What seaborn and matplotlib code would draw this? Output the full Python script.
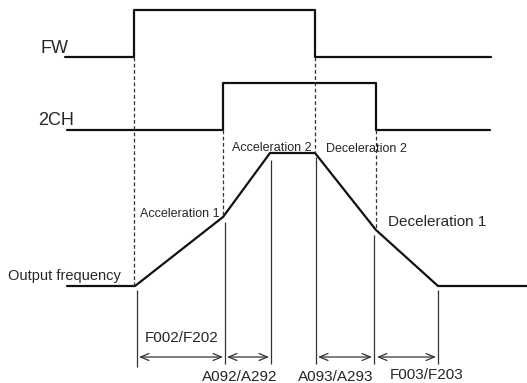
import pandas as pd
import numpy as np
import matplotlib.pyplot as plt
import seaborn as sns

# Signal data (time in diagram units, state 0 = low / 1 = high)
fw_times = [65, 134, 134, 315, 315, 491]
fw_state = [0, 0, 1, 1, 0, 0]
ch_times = [67, 223, 223, 376, 376, 490]
ch_state = [0, 0, 1, 1, 0, 0]

# Output frequency profile (height above baseline)
freq_times = [67, 135, 223, 270, 315, 376, 438, 527]
freq_vals = [0, 0, 69, 133, 133, 56, 0, 0]

# Time-interval labels
interval_labels = ['F002/F202', 'A092/A292', 'A093/A293', 'F003/F203']
interval_spans = [(139, 223), (227, 269), (318, 372), (377, 436)]

sns.set_style("white")
plt.rcParams['font.family'] = ['Liberation Sans', 'DejaVu Sans']

# Layout: row positions for each trace
fw_low, fw_high = 57, 10
ch_low, ch_high = 130, 83
freq_base = 286

rows = []
for t, s in zip(fw_times, fw_state):
    rows.append({'t': t, 'y': fw_low + (fw_high - fw_low) * s, 'signal': 'FW'})
for t, s in zip(ch_times, ch_state):
    rows.append({'t': t, 'y': ch_low + (ch_high - ch_low) * s, 'signal': '2CH'})
for t, v in zip(freq_times, freq_vals):
    rows.append({'t': t, 'y': freq_base - v, 'signal': 'freq'})
df = pd.DataFrame(rows)

fig = plt.figure(figsize=(5.27, 3.83), dpi=100)
ax = fig.add_axes([0, 0, 1, 1])

sns.lineplot(data=df, x='t', y='y', units='signal', estimator=None, sort=False,
             color='#111111', linewidth=1.6, ax=ax)

# Dashed guide lines from the switching edges down to the frequency curve
dash_kw = dict(color='#333333', linewidth=0.9, linestyles=(0, (3, 2)))
ax.vlines(134, fw_low, freq_base, **dash_kw)
ax.vlines(223, ch_low, 217, **dash_kw)
ax.vlines(315, fw_low, 153, **dash_kw)
ax.vlines(376, ch_low, 230, **dash_kw)

# Solid marker lines for the intervals
solid_kw = dict(color='#333333', linewidth=0.9)
ax.vlines(137, 290, 367, **solid_kw)
ax.vlines(225, 222, 364, **solid_kw)
ax.vlines(271, 160, 364, **solid_kw)
ax.vlines(316, 157, 364, **solid_kw)
ax.vlines(374, 235, 364, **solid_kw)
ax.vlines(438, 290, 364, **solid_kw)

for (a, b) in interval_spans:
    ax.annotate('', xy=(a, 357), xytext=(b, 357),
                arrowprops=dict(arrowstyle='<->,head_length=0.6,head_width=0.25',
                                color='#333333', linewidth=0.9,
                                shrinkA=0, shrinkB=0))

# Labels
ax.text(68, 53, 'FW', fontsize=13, ha='right', va='baseline')
ax.text(74, 125, '2CH', fontsize=13, ha='right', va='baseline')
ax.text(8, 280, 'Output frequency', fontsize=10.5, ha='left', va='baseline')
ax.text(180, 217, 'Acceleration 1', fontsize=9, ha='center', va='baseline')
ax.text(272, 151, 'Acceleration 2', fontsize=9, ha='center', va='baseline')
ax.text(366, 152, 'Deceleration 2', fontsize=9, ha='center', va='baseline')
ax.text(437, 226, 'Deceleration 1', fontsize=11, ha='center', va='baseline')

label_pos = [(182, 342), (240, 381), (336, 381), (427, 379)]
for lab, (x, y) in zip(interval_labels, label_pos):
    ax.text(x, y, lab, fontsize=11, ha='center', va='baseline')

ax.set_xlim(0, 527)
ax.set_ylim(383, 0)
ax.set_axis_off()

fig.savefig('out.png', dpi=100, facecolor='white')
plt.close(fig)
